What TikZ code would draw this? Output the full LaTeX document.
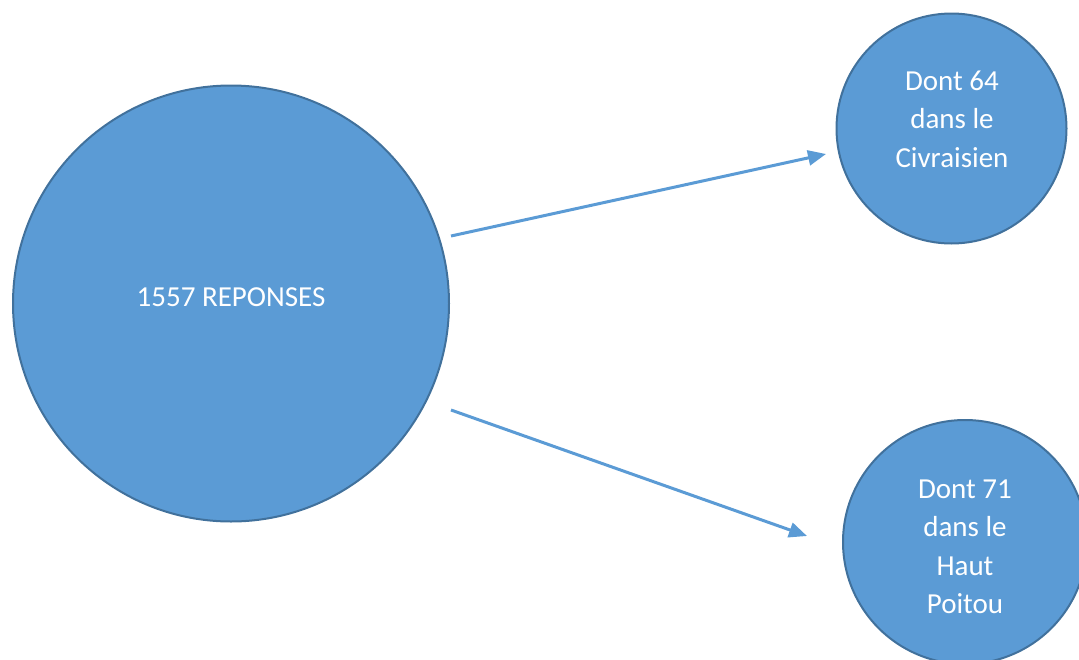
\documentclass[tikz,border=0pt]{standalone}
\usepackage{fontspec}
\setmainfont{Carlito}
\usetikzlibrary{arrows.meta}
\definecolor{fillblue}{HTML}{5B9BD5}
\definecolor{edgeblue}{HTML}{41719C}
\tikzset{
  bubble/.style={circle, fill=fillblue, draw=edgeblue, line width=2pt, inner sep=0pt},
  txt/.style={text=white, font=\fontsize{29}{38.5}\selectfont, align=center},
  conn/.style={draw=fillblue, line width=3pt, -{Triangle[length=18pt,width=15pt]}}
}
\begin{document}
\begin{tikzpicture}[x=1pt,y=-1pt]
\useasboundingbox (0,0) rectangle (1079,659);
\node[bubble, minimum size=436pt] (main) at (231,303.5) {};
\node[bubble, minimum size=230pt] (civ) at (951.5,128.5) {};
\node[bubble, minimum size=244pt] (haut) at (965,542) {};
\node[txt] (maintxt) at (231,297) {1557 REPONSES};
\node[txt] (civtxt) at (952,119) {Dont 64\\dans le\\Civraisien};
\node[txt] (hauttxt) at (965,547) {Dont 71\\dans le\\Haut\\Poitou};
\coordinate (a1s) at (451,236);
\coordinate (a1e) at (826,154);
\coordinate (a2s) at (451,410);
\coordinate (a2e) at (807,536);
\draw[conn] (a1s) -- (a1e);
\draw[conn] (a2s) -- (a2e);
\end{tikzpicture}
\end{document}
